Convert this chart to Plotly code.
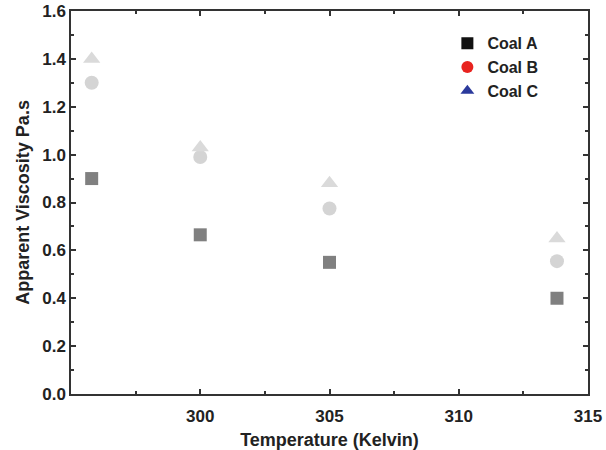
import plotly.graph_objects as go

temperature = [295.8, 300, 305, 313.8]
coal_a = [0.90, 0.665, 0.55, 0.40]
coal_b = [1.30, 0.99, 0.775, 0.555]
coal_c = [1.40, 1.03, 0.88, 0.65]
x_ticks = [300, 305, 310, 315]
y_ticks = [0.0, 0.2, 0.4, 0.6, 0.8, 1.0, 1.2, 1.4, 1.6]

fig = go.Figure()
series = [
    ("Coal A", coal_a, "square", "#808080", "#111111", 13),
    ("Coal B", coal_b, "circle", "#d4d4d4", "#e8231f", 14),
    ("Coal C", coal_c, "triangle-up", "#dadada", "#2b3a9c", 15),
]
for name, vals, sym, col, legcol, sz in series:
    fig.add_trace(go.Scatter(x=temperature, y=vals, mode="markers", showlegend=False,
                             marker=dict(symbol=sym, color=col, size=sz, line=dict(width=0))))
for name, vals, sym, col, legcol, sz in series:
    fig.add_trace(go.Scatter(x=[None], y=[None], mode="markers", name=f"<b>{name}</b>",
                             marker=dict(symbol=sym, color=legcol, size=13, line=dict(width=0))))

axis_common = dict(showline=True, linecolor="#333333", linewidth=1.5, mirror="ticks",
                   ticks="inside", tickcolor="#333333", tickwidth=1.5, ticklen=5,
                   showgrid=False, zeroline=False, automargin=False,
                   tickfont=dict(family="Liberation Sans, Arial", size=17, color="#222222"))

fig.update_layout(
    width=606, height=450,
    margin=dict(l=71, r=18, t=11, b=56),
    plot_bgcolor="white", paper_bgcolor="white",
    font=dict(family="Liberation Sans, Arial", color="#222222"),
    xaxis=dict(range=[295, 315], tickvals=x_ticks, ticktext=[f"<b>{v}</b>" for v in x_ticks],
               minor=dict(ticks="inside", ticklen=3, tickwidth=1.5, tickcolor="#333333", dtick=2.5, tick0=295),
               title=dict(text="<b>Temperature (Kelvin)</b>", font=dict(size=18), standoff=10),
               ticklabelstandoff=6,
               **axis_common),
    yaxis=dict(range=[0, 1.6], tickvals=y_ticks, ticktext=[f"<b>{v:.1f}</b>" for v in y_ticks],
               minor=dict(ticks="inside", ticklen=3, tickwidth=1.5, tickcolor="#333333", dtick=0.1, tick0=0),
               title=dict(text="<b>Apparent Viscosity Pa.s</b>", font=dict(size=18), standoff=8),
               **axis_common),
    legend=dict(x=0.728, y=0.96, xanchor="left", yanchor="top", bgcolor="rgba(0,0,0,0)",
                font=dict(size=16), itemsizing="constant", tracegroupgap=0),
)

fig.write_html("out.html")
